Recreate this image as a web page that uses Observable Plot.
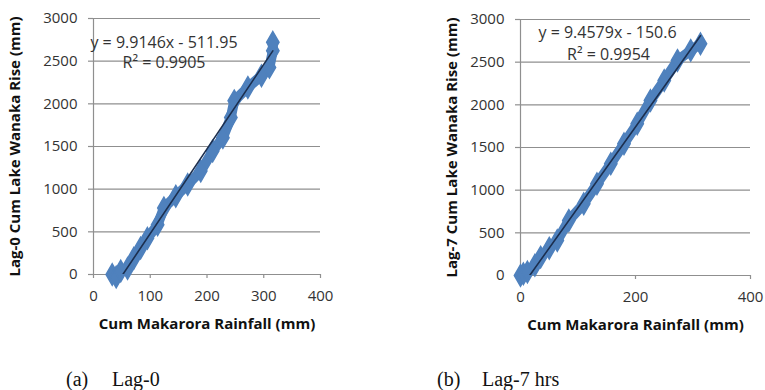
<!DOCTYPE html>
<html>
<head>
<meta charset="utf-8">
<script src="https://cdn.jsdelivr.net/npm/d3@7"></script>
<script src="https://cdn.jsdelivr.net/npm/@observablehq/plot@0.6"></script>
<style>
  html, body { margin: 0; padding: 0; background: #fff; }
  #wrap { position: relative; width: 765px; height: 390px; overflow: hidden; }
  .panel { position: absolute; top: 0; }
  .cap { position: absolute; font-family: "Liberation Serif", serif; font-size: 20px; color: #111; white-space: pre; }
</style>
</head>
<body>
<div id="wrap">
  <div id="pa" class="panel" style="left:0px"></div>
  <div id="pb" class="panel" style="left:380px"></div>
  <div class="cap" style="left:66px; top:368px">(a)</div>
  <div class="cap" style="left:112px; top:368px">Lag-0</div>
  <div class="cap" style="left:437px; top:368px">(b)</div>
  <div class="cap" style="left:482px; top:368px">Lag-7 hrs</div>
</div>
<script>
// Panel (a) Lag-0
const lag0Rain = [33, 40, 48, 60, 71, 83, 95, 113, 124, 145, 166, 189, 210, 228, 242, 248, 272, 296, 310, 316, 316];
const lag0Rise = [0, -30, 40, 70, 190, 310, 425, 584, 780, 918, 1055, 1212, 1447, 1604, 1839, 2035, 2192, 2329, 2427, 2623, 2721];
// Panel (b) Lag-7 hrs
const lag7Rain = [0, 5, 12, 25, 35, 50, 64, 84, 110, 133, 157, 180, 203, 226, 250, 273, 296, 313];
const lag7Rise = [0, 20, 40, 120, 215, 320, 410, 645, 840, 1075, 1310, 1544, 1779, 2050, 2285, 2520, 2638, 2716];

const xTicksA = [0, 100, 200, 300, 400];
const xTicksB = [0, 200, 400];
const yTicks = [0, 500, 1000, 1500, 2000, 2500, 3000];

const fitSlope = [9.9146, 9.4579];
const fitIntercept = [-511.95, -150.6];
const eqLine1 = ["y = 9.9146x - 511.95", "y = 9.4579x - 150.6"];
const eqLine2 = ["R² = 0.9905", "R² = 0.9954"];
const yTitles = ["Lag-0 Cum Lake Wanaka Rise (mm)", "Lag-7 Cum Lake Wanaka Rise (mm)"];
const xTitle = "Cum Makarora Rainfall (mm)";

const BLUE = "#4f81bd";
const GRID = "#8f8f8f";

function panel(i, rain, rise, xTicks, m, eqDx, eqDy) {
  const pts = rain.map((x, k) => ({x, y: rise[k]}));
  const x0 = d3.min(rain), x1 = d3.max(rain);
  const fit = [x0, x1].map(x => ({x, y: fitSlope[i] * x + fitIntercept[i]}));
  return Plot.plot({
    width: m.width, height: 340,
    marginLeft: m.left, marginRight: m.right, marginTop: m.top, marginBottom: m.bottom,
    style: {fontFamily: "'Open Sans', sans-serif", fontSize: "15px", color: "#333", background: "transparent", overflow: "visible"},
    x: {domain: [0, 400]},
    y: {domain: [0, 3000]},
    marks: [
      Plot.ruleY(yTicks.slice(1), {stroke: GRID, strokeWidth: 1.2}),
      Plot.ruleY([0], {stroke: GRID, strokeWidth: 1.2}),
      Plot.ruleX([0], {stroke: GRID, strokeWidth: 1.2}),
      Plot.axisX({ticks: xTicks, tickSize: 4, tickPadding: 12, stroke: GRID, strokeWidth: 1.2, label: null, tickFormat: d => String(d)}),
      Plot.axisY({ticks: yTicks, tickSize: 5, tickPadding: 11, stroke: GRID, strokeWidth: 1.2, label: null, tickFormat: d => String(d)}),
      Plot.line(pts, {x: "x", y: "y", stroke: BLUE, strokeWidth: 10, strokeLinecap: "round", strokeLinejoin: "round"}),
      Plot.dot(pts, {x: "x", y: "y", symbol: "diamond", r: 6.5, fill: BLUE, stroke: BLUE}),
      Plot.line(fit, {x: "x", y: "y", stroke: "#1c2f4f", strokeWidth: 1.6, clip: true}),
      Plot.text([eqLine1[i]], {frameAnchor: "top", dx: eqDx[0], dy: eqDy[0], fill: "#333", fontSize: 16, lineAnchor: "middle"}),
      Plot.text([eqLine2[i]], {frameAnchor: "top", dx: eqDx[1], dy: eqDy[1], fill: "#333", fontSize: 16, lineAnchor: "middle"}),
      Plot.text([xTitle], {frameAnchor: "bottom", dy: 50, fill: "#111", fontWeight: "bold", fontSize: 15, lineAnchor: "middle"}),
      Plot.text([yTitles[i]], {frameAnchor: "left", dx: m.yTitleDx, rotate: -90, textAnchor: "middle", fill: "#111", fontWeight: "bold", fontSize: 15, lineAnchor: "middle"})
    ]
  });
}

document.getElementById("pa").append(
  panel(0, lag0Rain, lag0Rise, xTicksA,
    {width: 380, left: 93, right: 60, top: 18, bottom: 66, yTitleDx: -78},
    [-43, -43], [24, 44]));
document.getElementById("pb").append(
  panel(1, lag7Rain, lag7Rise, xTicksB,
    {width: 385, left: 140, right: 15, top: 19, bottom: 65, yTitleDx: -68},
    [-28, -27], [13, 35]));
</script>
</body>
</html>
